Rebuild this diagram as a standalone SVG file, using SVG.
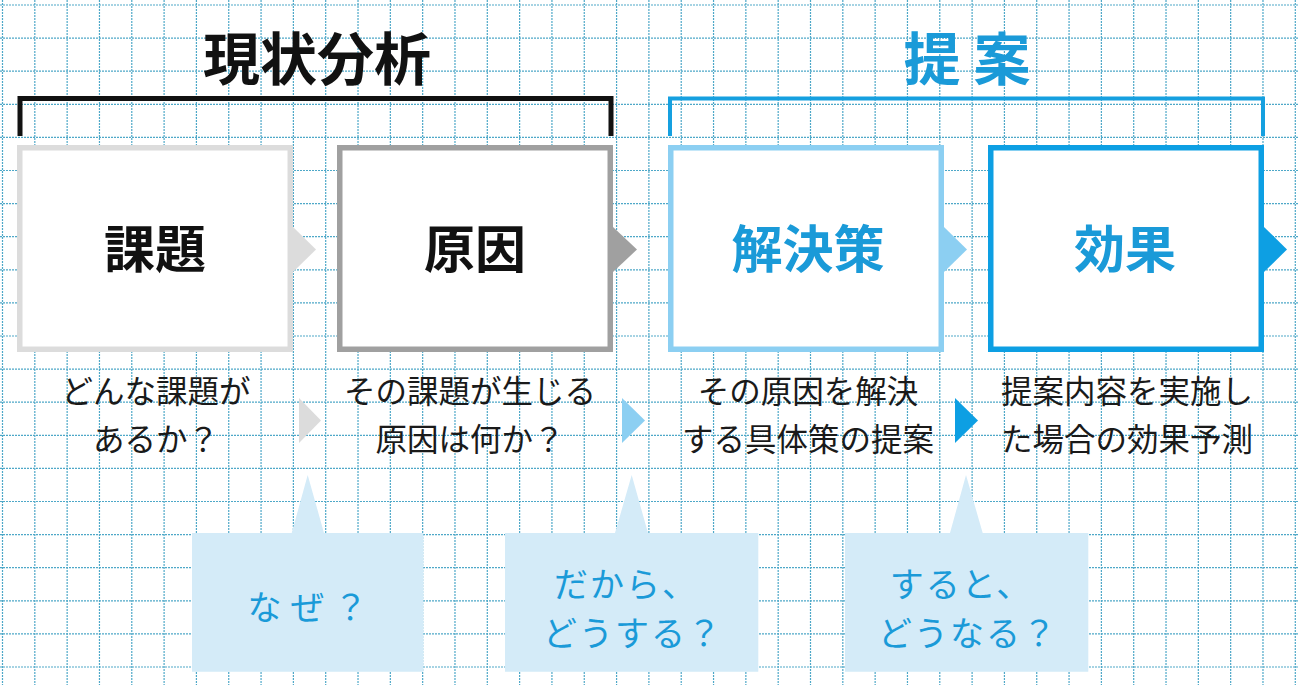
<svg xmlns="http://www.w3.org/2000/svg" width="1298" height="685" viewBox="0 0 1298 685">
<defs>
<style>
.grid{stroke:#4ea8c8;stroke-width:1.2;stroke-dasharray:2 1;fill:none}
.box{fill:#ffffff;stroke-width:5.5}
.lbl{font-family:"Noto Sans CJK JP","Noto Sans",sans-serif;font-weight:700;font-size:51px;text-anchor:middle}
.ttl{font-family:"Noto Sans CJK JP","Noto Sans",sans-serif;font-weight:700;font-size:57px;text-anchor:middle}
.desc{font-family:"Noto Sans CJK JP","Noto Sans",sans-serif;font-weight:400;font-size:31.5px;text-anchor:middle;fill:#1a1a1a}
.bub{fill:#d4ebf8}
.btxt{font-family:"Noto Sans CJK JP","Noto Sans",sans-serif;font-weight:400;font-size:34px;letter-spacing:2px;text-anchor:middle;fill:#1a9ad8}
</style>
</defs>
<rect x="0" y="0" width="1298" height="685" fill="#ffffff"/>
<g id="grid">
<path class="grid" d="M2.5,0V685M34.82,0V685M67.14,0V685M99.46,0V685M131.78,0V685M164.1,0V685M196.42,0V685M228.74,0V685M261.06,0V685M293.38,0V685M325.7,0V685M358.02,0V685M390.34,0V685M422.66,0V685M454.98,0V685M487.3,0V685M519.62,0V685M551.94,0V685M584.26,0V685M616.58,0V685M648.9,0V685M681.22,0V685M713.54,0V685M745.86,0V685M778.18,0V685M810.5,0V685M842.82,0V685M875.14,0V685M907.46,0V685M939.78,0V685M972.1,0V685M1004.42,0V685M1036.74,0V685M1069.06,0V685M1101.38,0V685M1133.7,0V685M1166.02,0V685M1198.34,0V685M1230.66,0V685M1262.98,0V685M1295.3,0V685"/>
<path class="grid" d="M0,5H1298M0,38.1H1298M0,71.2H1298M0,104.3H1298M0,137.4H1298M0,170.5H1298M0,203.6H1298M0,236.7H1298M0,269.8H1298M0,302.9H1298M0,336H1298M0,369.1H1298M0,402.2H1298M0,435.3H1298M0,468.4H1298M0,501.5H1298M0,534.6H1298M0,567.7H1298M0,600.8H1298M0,633.9H1298M0,667H1298"/>
</g>
<g id="title-analysis">
<text class="ttl" x="317" y="80" fill="#111111">現状分析</text>
<path d="M20,136V98.5H611V136" fill="none" stroke="#111111" stroke-width="5"/>
</g>
<g id="title-proposal">
<text class="ttl" x="967" y="80" fill="#1a9ad8">提 案</text>
<path d="M670,136V98.5H1263V136" fill="none" stroke="#15a0e0" stroke-width="4"/>
</g>
<g id="connectors">
<polygon points="293,227 316,249.5 293,272" fill="#dcdcdc"/>
<polygon points="613,227 637,249.5 613,272" fill="#a0a0a0"/>
<polygon points="944,227 967,249.5 944,272" fill="#8ccff2"/>
<polygon points="1264,227 1287,249.5 1264,272" fill="#0d9fe3"/>
<polygon points="299,398 321,420.5 299,443" fill="#dcdcdc"/>
<polygon points="622,398 645,420.5 622,443" fill="#8ccff2"/>
<polygon points="955,398 978,420.5 955,443" fill="#0d9fe3"/>
</g>
<g id="node-kadai">
<rect class="box" x="19.75" y="147.75" width="270.5" height="201.5" stroke="#dcdcdc"/>
<text class="lbl" x="155" y="268" fill="#111111">課題</text>
<text class="desc" x="156" y="403">どんな課題が</text>
<text class="desc" x="156" y="451">あるか？</text>
</g>
<g id="node-genin">
<rect class="box" x="339.75" y="147.75" width="270.5" height="201.5" stroke="#a0a0a0"/>
<text class="lbl" x="475" y="268" fill="#111111">原因</text>
<text class="desc" x="470" y="403">その課題が生じる</text>
<text class="desc" x="470" y="451">原因は何か？</text>
</g>
<g id="node-kaiketsu">
<rect class="box" x="670.75" y="147.75" width="270.5" height="201.5" stroke="#8ccff2"/>
<text class="lbl" x="808" y="268" fill="#1a9ad8">解決策</text>
<text class="desc" x="808" y="403">その原因を解決</text>
<text class="desc" x="808" y="451">する具体策の提案</text>
</g>
<g id="node-kouka">
<rect class="box" x="990.75" y="147.75" width="270.5" height="201.5" stroke="#0d9fe3"/>
<text class="lbl" x="1125" y="268" fill="#1a9ad8">効果</text>
<text class="desc" x="1127" y="403">提案内容を実施し</text>
<text class="desc" x="1127" y="451">た場合の効果予測</text>
</g>
<g id="bubble-naze">
<path class="bub" d="M192,533H291.7L307.7,475L324,533H423.3V671.7H192Z"/>
<text class="btxt" x="312" y="620" style="letter-spacing:9px">なぜ？</text>
</g>
<g id="bubble-dakara">
<path class="bub" d="M505,533H615L631.7,475L648,533H758.3V671.7H505Z"/>
<text class="btxt" x="626" y="597">だから、</text>
<text class="btxt" x="633" y="646">どうする？</text>
</g>
<g id="bubble-suruto">
<path class="bub" d="M845,533H950L966,475L982.7,533H1088.3V671.7H845Z"/>
<text class="btxt" x="961" y="597">すると、</text>
<text class="btxt" x="968" y="646">どうなる？</text>
</g>
</svg>
